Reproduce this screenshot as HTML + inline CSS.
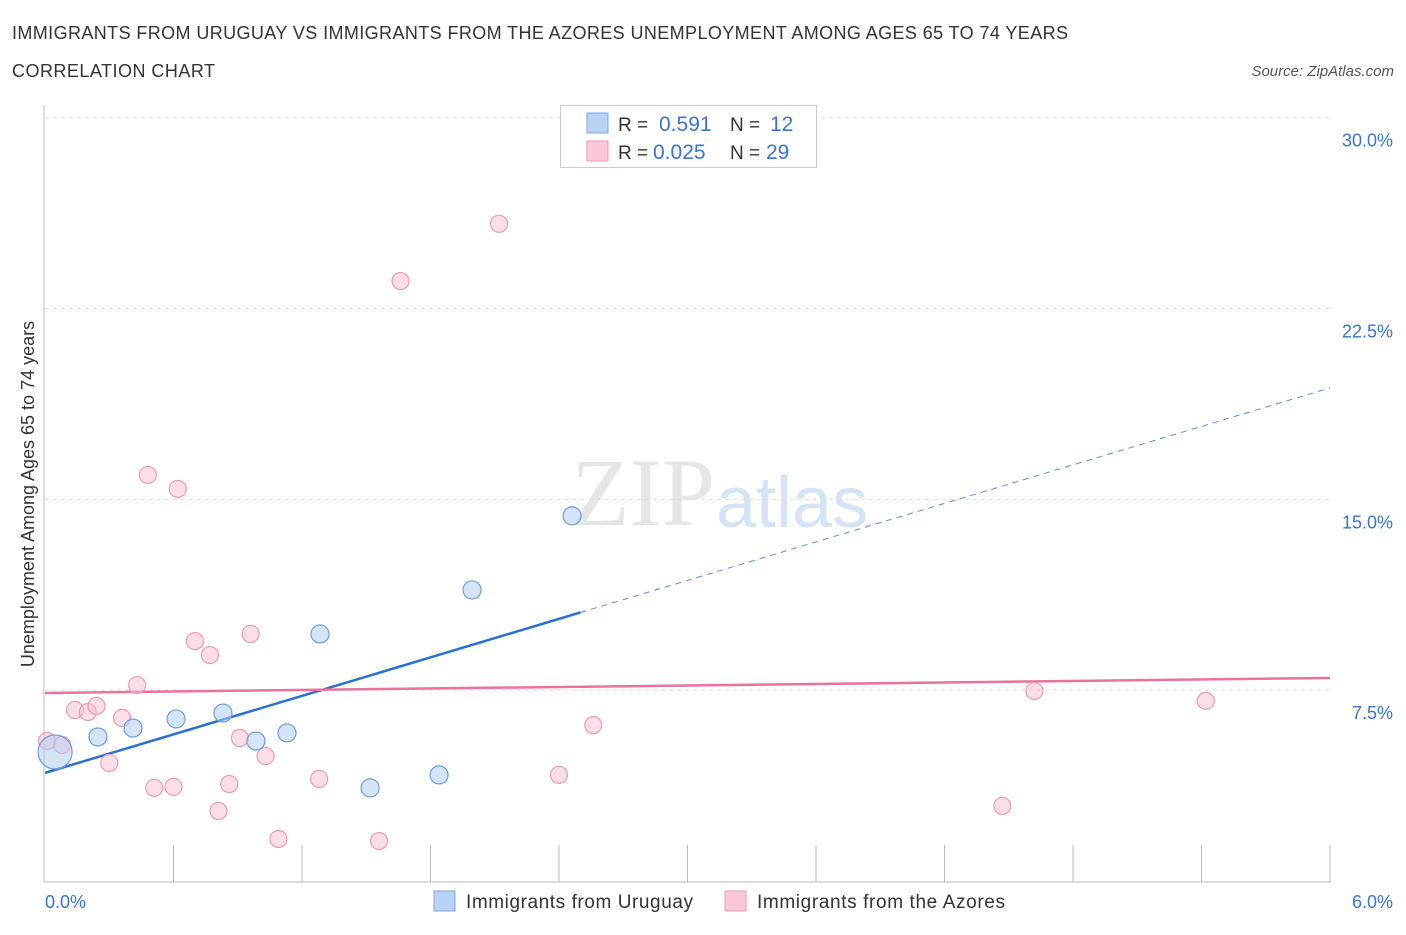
<!DOCTYPE html>
<html><head><meta charset="utf-8"><style>
body{margin:0;background:#fff;font-family:"Liberation Sans",sans-serif;}
svg text{font-family:"Liberation Sans",sans-serif;}
</style></head><body>
<svg id="chart" width="1406" height="930">
<text x="12" y="39" font-size="18" fill="#333" textLength="1056">IMMIGRANTS FROM URUGUAY VS IMMIGRANTS FROM THE AZORES UNEMPLOYMENT AMONG AGES 65 TO 74 YEARS</text>
<text x="12" y="77" font-size="18" fill="#333" textLength="203">CORRELATION CHART</text>
<text x="1394" y="76" font-size="15" fill="#555" font-style="italic" text-anchor="end">Source: ZipAtlas.com</text>
<text x="715" y="525" font-size="96" fill="#e6e6e6" text-anchor="end" style="font-family:'Liberation Serif',serif">ZIP</text>
<text x="716" y="527" font-size="72" fill="#d6e3f5">atlas</text>
<g id="grid"></g>
<g id="axes"></g>
<g id="lines"></g>
<g id="points"></g>
<text x="34" y="494" font-size="18" fill="#333" text-anchor="middle" transform="rotate(-90 34 494)">Unemployment Among Ages 65 to 74 years</text>
<text x="45" y="908" font-size="18" fill="#3a75d0">0.0%</text>
<text x="1393" y="908" font-size="18" fill="#3a75d0" text-anchor="end">6.0%</text>
<g>
<rect x="560.5" y="105.5" width="256" height="62" fill="#fff" stroke="#ccc"/>
<rect x="587" y="113" width="21" height="20" fill="#b9d3f5" stroke="#7ba7e3"/>
<rect x="587" y="141" width="21" height="20" fill="#f9c7d6" stroke="#ee9ab4"/>
<text x="618" y="131" font-size="19" fill="#333">R = </text><text x="659" y="131" font-size="21" fill="#3a75d0">0.591</text>
<text x="730" y="131" font-size="19" fill="#333">N = </text><text x="770" y="131" font-size="21" fill="#3a75d0">12</text>
<text x="618" y="159" font-size="19" fill="#333">R = </text><text x="653" y="159" font-size="21" fill="#3a75d0">0.025</text>
<text x="730" y="159" font-size="19" fill="#333">N = </text><text x="766" y="159" font-size="21" fill="#3a75d0">29</text>
</g>
<g>
<rect x="434" y="891" width="21" height="20" fill="#b9d3f5" stroke="#7ba7e3"/>
<text x="466" y="908" font-size="19" fill="#333" textLength="227">Immigrants from Uruguay</text>
<rect x="725" y="891" width="21" height="20" fill="#f9c7d6" stroke="#ee9ab4"/>
<text x="757" y="908" font-size="19" fill="#333" textLength="248">Immigrants from the Azores</text>
</g>
</svg>
<script>
const yTicks=[7.5,15,22.5,30];
const yTickLabels=["7.5%","15.0%","22.5%","30.0%"];
const uruguayX=[0.047,0.247,0.411,0.612,0.831,0.985,1.130,1.284,1.518,1.840,1.994,2.461];
const uruguayY=[5.07,5.66,6.01,6.37,6.60,5.50,5.82,9.71,3.66,4.17,11.44,14.35];
const uruguaySize=[17,9,9,9,9,9,9,9,9,9,9,9];
const azoresX=[0.01,0.08,0.14,0.20,0.24,0.30,0.36,0.43,0.48,0.51,0.60,0.62,0.70,0.77,0.81,0.86,0.91,0.96,1.03,1.09,1.28,1.56,1.66,2.12,2.40,2.56,4.47,4.62,5.42];
const azoresY=[5.50,5.35,6.72,6.64,6.88,4.64,6.41,7.70,15.96,3.66,3.70,15.41,9.43,8.88,2.75,3.81,5.62,9.71,4.91,1.65,4.01,1.57,23.58,25.83,4.17,6.13,2.95,7.47,7.08];
const uruguayTrend=[4.25,19.38];
const uruguaySolidEnd=2.5;
const azoresTrend=[7.39,7.98];
const NS="http://www.w3.org/2000/svg";
const sx=v=>45+v/6*1285;
const sy=v=>881-v/30*763.3;
function mk(tag,attrs,parent){const e=document.createElementNS(NS,tag);for(const k in attrs)e.setAttribute(k,attrs[k]);document.getElementById(parent).appendChild(e);return e;}
yTicks.forEach((t,i)=>{
 const g=mk('line',{x1:45,x2:1330,y1:sy(t),y2:sy(t),stroke:'#ddd','stroke-dasharray':'4,4'},'grid');
 
 
 const tx=mk('text',{x:1393,y:sy(t)+29,'font-size':18,fill:'#3a75d0','text-anchor':'end'},'grid');
 tx.textContent=yTickLabels[i];
 
 
});
const ax=mk('line',{x1:44,x2:44,y1:105,y2:882,stroke:'#bbb'},'axes');


const bx=mk('line',{x1:44,x2:1331,y1:882,y2:882,stroke:'#bbb'},'axes');


for(let i=1;i<=10;i++){const v=i*0.6;const t=mk('line',{x1:sx(v),x2:sx(v),y1:845,y2:882,stroke:'#bbb'},'axes');
 
 }
const ty=x=>uruguayTrend[0]+(uruguayTrend[1]-uruguayTrend[0])*x/6;
const l1=mk('line',{x1:sx(0),y1:sy(ty(0)),x2:sx(uruguaySolidEnd),y2:sy(ty(uruguaySolidEnd)),stroke:'#2a6fd6','stroke-width':2.5},'lines');


const l2=mk('line',{x1:sx(uruguaySolidEnd),y1:sy(ty(uruguaySolidEnd)),x2:sx(6),y2:sy(ty(6)),stroke:'#5b8fe0','stroke-width':1,'stroke-dasharray':'6,5'},'lines');


const l3=mk('line',{x1:sx(0),y1:sy(azoresTrend[0]),x2:sx(6),y2:sy(azoresTrend[1]),stroke:'#e8739b','stroke-width':2.5},'lines');


azoresX.forEach((x,i)=>{const c=mk('circle',{cx:sx(x),cy:sy(azoresY[i]),r:8.5,fill:'rgba(248,190,208,0.5)',stroke:'#ee9ab4','stroke-width':1.2},'points');
 
 });
uruguayX.forEach((x,i)=>{const c=mk('circle',{cx:sx(x),cy:sy(uruguayY[i]),r:uruguaySize[i],fill:'rgba(180,206,243,0.55)',stroke:'#6d9de0','stroke-width':1.2},'points');
 
 });
</script>
</body></html>
